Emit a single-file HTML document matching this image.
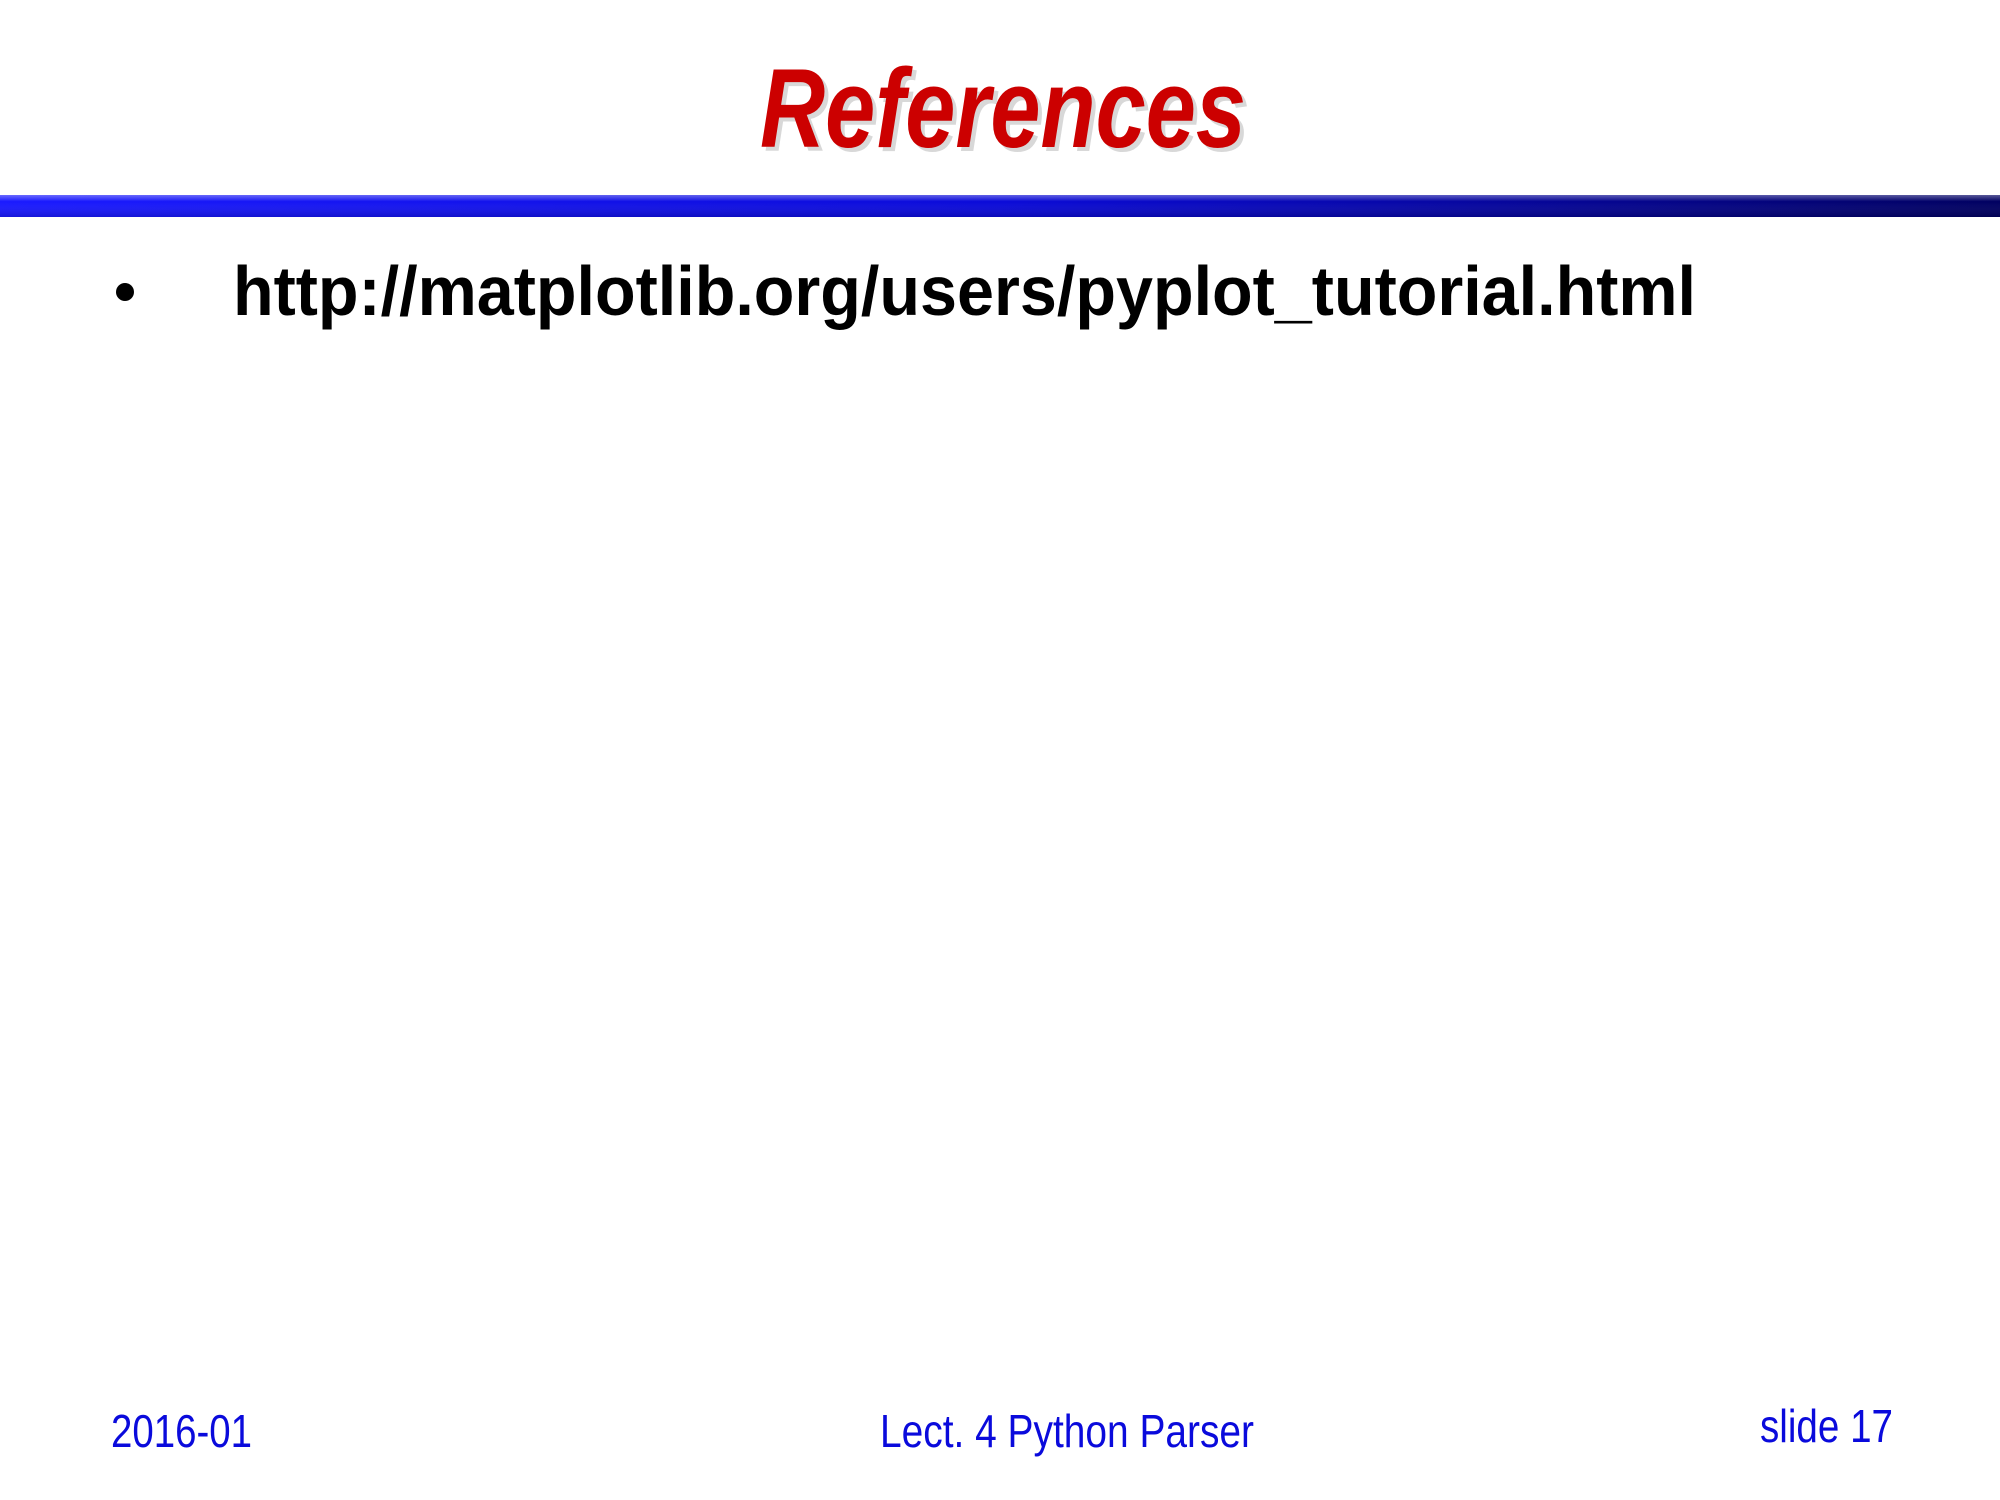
<!DOCTYPE html>
<html><head><meta charset="utf-8"><style>
html,body{margin:0;padding:0;background:#fff;width:2000px;height:1500px;overflow:hidden}
</style></head><body>
<svg width="2000" height="1500" xmlns="http://www.w3.org/2000/svg">
<defs>
<linearGradient id="bar" x1="0" x2="1" y1="0" y2="0">
<stop offset="0" stop-color="#1a1aff"/>
<stop offset="0.5" stop-color="#0a0ad8"/>
<stop offset="1" stop-color="#000060"/>
</linearGradient>
<linearGradient id="barv" x1="0" x2="0" y1="0" y2="1">
<stop offset="0" stop-color="#fff" stop-opacity="0.35"/>
<stop offset="0.3" stop-color="#fff" stop-opacity="0"/>
<stop offset="1" stop-color="#000" stop-opacity="0.15"/>
</linearGradient>
</defs>
<text x="1007" y="151" text-anchor="middle" font-family="Liberation Sans Narrow, Liberation Sans, sans-serif" font-weight="bold" font-style="italic" font-size="112" fill="#aaa" opacity="0.45" textLength="486" lengthAdjust="spacingAndGlyphs">References</text>
<text x="1003" y="147" text-anchor="middle" font-family="Liberation Sans Narrow, Liberation Sans, sans-serif" font-weight="bold" font-style="italic" font-size="112" fill="#cc0000" textLength="486" lengthAdjust="spacingAndGlyphs">References</text>
<rect x="0" y="195" width="2000" height="22" fill="url(#bar)"/>
<rect x="0" y="195" width="2000" height="22" fill="url(#barv)"/>
<circle cx="125" cy="292" r="9" fill="#000"/>
<text x="233" y="315" font-family="Liberation Sans, sans-serif" font-weight="bold" font-size="70" fill="#000" textLength="1463" lengthAdjust="spacingAndGlyphs">http://matplotlib.org/users/pyplot_tutorial.html</text>
<g font-family="Liberation Sans, sans-serif" font-size="46" fill="#0a0adc">
<text x="111" y="1447" textLength="141" lengthAdjust="spacingAndGlyphs">2016-01</text>
<text x="880" y="1447" textLength="374" lengthAdjust="spacingAndGlyphs">Lect. 4 Python Parser</text>
<text x="1760" y="1442" textLength="133" lengthAdjust="spacingAndGlyphs">slide 17</text>
</g>
</svg>
</body></html>
